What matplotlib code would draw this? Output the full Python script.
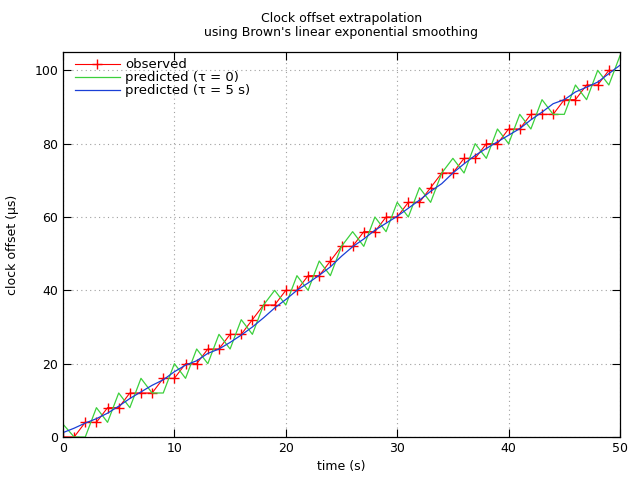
import matplotlib
matplotlib.use("Agg")
import matplotlib.pyplot as plt

# time axis (s)
t_obs = list(range(0, 50))
t_pred = list(range(0, 51))

# observed clock offset (us), quantised to 4 us
observed = [
    0, 0, 4, 4, 8, 8, 12, 12, 12, 16,
    16, 20, 20, 24, 24, 28, 28, 32, 36, 36,
    40, 40, 44, 44, 48, 52, 52, 56, 56, 60,
    60, 64, 64, 68, 72, 72, 76, 76, 80, 80,
    84, 84, 88, 88, 88, 92, 92, 96, 96, 100,
]

# predicted, tau = 0
pred_tau0 = [
    3.5, 0, 0, 8, 4, 12, 8, 16, 12, 12,
    20, 16, 24, 20, 28, 24, 32, 28, 36, 40,
    36, 44, 40, 48, 44, 52, 56, 52, 60, 56,
    64, 60, 68, 64, 72, 76, 72, 80, 76, 84,
    80, 88, 84, 92, 88, 88, 96, 92, 100, 96,
    104,
]

# predicted, tau = 5 s
pred_tau5 = [
    1.2, 2.4, 3.8, 5.0, 6.5, 8.4, 10.5, 12.3, 14.1, 15.6,
    17.8, 19.6, 20.8, 22.8, 24.0, 25.8, 27.8, 30.0, 32.5, 35.2,
    37.5, 40.0, 42.0, 44.1, 46.4, 49.3, 51.9, 54.0, 56.4, 58.3,
    60.2, 62.4, 64.6, 67.0, 69.1, 72.0, 74.5, 76.8, 78.7, 80.5,
    82.3, 84.1, 86.5, 88.6, 90.9, 92.0, 94.1, 95.4, 96.8, 99.1,
    101.4,
]

plt.rcParams["font.family"] = ["DejaVu Sans"]
plt.rcParams["font.size"] = 9

fig = plt.figure(figsize=(6.4, 4.8), dpi=100)
ax = fig.add_axes([63 / 640, 43 / 480, 557 / 640, 385 / 480])

ax.plot(t_obs, observed, color="#ff0000", lw=0.8, marker="+", ms=7,
        mew=1.0, label="observed")
ax.plot(t_pred, pred_tau0, color="#3cd03c", lw=0.9, label="predicted (τ = 0)")
ax.plot(t_pred, pred_tau5, color="#1a3fd6", lw=0.9, label="predicted (τ = 5 s)")

ax.set_xlim(0, 50)
ax.set_ylim(0, 105)
ax.set_xticks(range(0, 51, 10))
ax.set_yticks(range(0, 101, 20))
ax.tick_params(direction="in", length=6, top=True, right=True, width=0.8)
ax.grid(True, color="#a0a0a0", linestyle=(0, (1, 3)), linewidth=0.8)
for s in ax.spines.values():
    s.set_linewidth(0.9)

ax.set_xlabel("time (s)", labelpad=4)
ax.set_ylabel("clock offset (µs)", labelpad=11)
ax.set_title("Clock offset extrapolation\nusing Brown's linear exponential smoothing",
             fontsize=9, pad=11.5, linespacing=1.1)

ax.legend(loc="upper left", bbox_to_anchor=(0.0215, 0.984), frameon=False,
          numpoints=1, handlelength=3.4, borderaxespad=0.0, borderpad=0.0,
          labelspacing=0.0, handletextpad=0.4, fontsize=9.5)

fig.savefig("out.png", dpi=100)
